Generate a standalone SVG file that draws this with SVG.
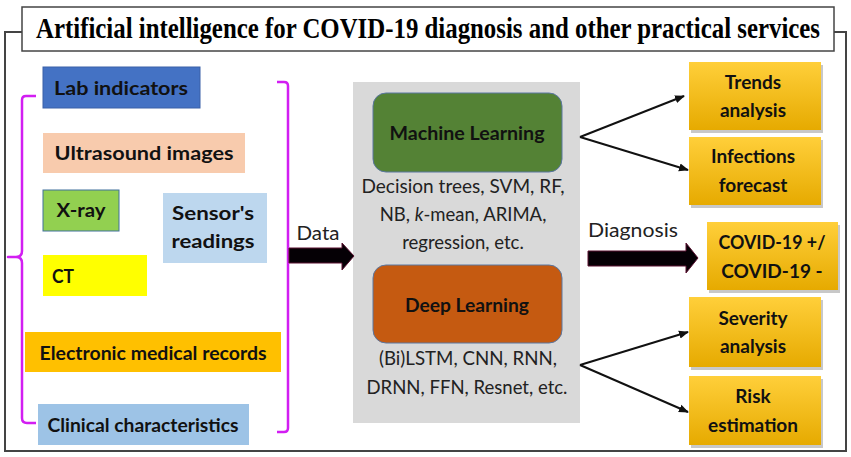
<svg xmlns="http://www.w3.org/2000/svg" width="851" height="457" viewBox="0 0 851 457">
<style>
.lbl{font-family:Lato,"Open Sans",sans-serif;font-weight:bold;font-size:19px;fill:#111;text-anchor:middle}
.txt{font-family:Lato,"Open Sans",sans-serif;font-size:18.5px;fill:#222;text-anchor:middle}
.gold{fill:url(#gold)}
.shadow{fill:#9a9a9a;opacity:0.55}
.brace{fill:none;stroke:#d21ef2;stroke-width:2.5;stroke-linejoin:round}
.line{stroke:#111;stroke-width:2;fill:none;marker-end:url(#ah)}
.block{fill:#050005;stroke:#5a1030;stroke-width:1}
</style>
<defs>
<linearGradient id="gold" x1="0" y1="0" x2="0" y2="1">
<stop offset="0" stop-color="#ffcf3a"/>
<stop offset="1" stop-color="#e6aa00"/>
</linearGradient>
<marker id="ah" viewBox="0 0 10 10" refX="9" refY="5" markerWidth="5" markerHeight="5" orient="auto" markerUnits="strokeWidth">
<path d="M0,1 L10,5 L0,9 z" fill="#111"/>
</marker>
</defs>
<rect width="851" height="457" fill="#fff"/>
<g id="frame">
<path d="M22,32 H5 V451 H846 V32 H834" fill="none" stroke="#444" stroke-width="2"/>
</g>
<g id="title">
<rect x="22" y="7" width="812" height="44" fill="#fff" stroke="#444" stroke-width="1.5"/>
<text transform="translate(36,38) scale(0.8,1)" x="0" y="0" font-family="'Liberation Serif',serif" font-weight="bold" font-size="29" textLength="980" lengthAdjust="spacingAndGlyphs" fill="#000">Artificial intelligence for COVID-19 diagnosis and other practical services</text>
</g>
<g id="lab">
<rect x="43" y="67" width="157" height="41" fill="#4472c4" stroke="#3a60a8" stroke-width="1"/>
<text class="lbl" x="121" y="95" textLength="134" lengthAdjust="spacingAndGlyphs">Lab indicators</text>
</g>
<g id="ultrasound">
<rect x="43" y="133" width="202" height="40" fill="#f8cbad"/>
<text class="lbl" x="144" y="160" textLength="179" lengthAdjust="spacingAndGlyphs">Ultrasound images</text>
</g>
<g id="xray">
<rect x="43" y="190" width="76" height="41" fill="#92d050" stroke="#41719c" stroke-width="1"/>
<text class="lbl" x="81" y="217" textLength="49" lengthAdjust="spacingAndGlyphs">X-ray</text>
</g>
<g id="sensor">
<rect x="163" y="193" width="104" height="70" fill="#bdd7ee"/>
<text class="lbl" x="213" y="220" textLength="82" lengthAdjust="spacingAndGlyphs">Sensor's</text>
<text class="lbl" x="213" y="248" textLength="83" lengthAdjust="spacingAndGlyphs">readings</text>
</g>
<g id="ct">
<rect x="43" y="255" width="104" height="41" fill="#ffff00"/>
<text class="lbl" x="63" y="283" textLength="22" lengthAdjust="spacingAndGlyphs">CT</text>
</g>
<g id="emr">
<rect x="25" y="332" width="256" height="40" fill="#ffc000"/>
<text class="lbl" x="153" y="360" textLength="227" lengthAdjust="spacingAndGlyphs">Electronic medical records</text>
</g>
<g id="clinical">
<rect x="38" y="404" width="211" height="41" fill="#9dc3e6"/>
<text class="lbl" x="143" y="432" textLength="191" lengthAdjust="spacingAndGlyphs">Clinical characteristics</text>
</g>
<g id="braces">
<path class="brace" d="M36,96 H26 Q22,96 22,100 V251 Q22,257 16,257 H8 H16 Q22,257 22,263 V418 Q22,423 27,423 H36"/>
<path class="brace" d="M277,82 H284 Q288,82 288,86 V428 Q288,432 284,432 H277"/>
</g>
<g id="panel">
<rect x="353" y="82" width="227" height="341" fill="#d9d9d9"/>
</g>
<g id="ml">
<rect x="373" y="93" width="189" height="79" rx="13" fill="#548235" stroke="#5a76a0" stroke-width="1"/>
<text class="lbl" x="467" y="140" textLength="155" lengthAdjust="spacingAndGlyphs">Machine Learning</text>
<text class="txt" x="463" y="193" textLength="203" lengthAdjust="spacingAndGlyphs">Decision trees, SVM, RF,</text>
<text class="txt" x="463" y="221">NB, <tspan font-style="italic">k</tspan>-mean, ARIMA,</text>
<text class="txt" x="463" y="249">regression, etc.</text>
</g>
<g id="dl">
<rect x="373" y="265" width="189" height="78" rx="13" fill="#c55a11" stroke="#5a76a0" stroke-width="1"/>
<text class="lbl" x="467" y="312" textLength="124" lengthAdjust="spacingAndGlyphs">Deep Learning</text>
<text class="txt" x="468" y="365" textLength="178" lengthAdjust="spacingAndGlyphs">(Bi)LSTM, CNN, RNN,</text>
<text class="txt" x="467" y="394" textLength="201" lengthAdjust="spacingAndGlyphs">DRNN, FFN, Resnet, etc.</text>
</g>
<g id="trends">
<rect class="shadow" x="691" y="65" width="132" height="68"/>
<rect class="gold" x="689" y="62" width="132" height="68"/>
<text class="lbl" x="753" y="89">Trends</text>
<text class="lbl" x="753" y="117">analysis</text>
</g>
<g id="infections">
<rect class="shadow" x="691" y="140" width="132" height="68"/>
<rect class="gold" x="689" y="137" width="132" height="68"/>
<text class="lbl" x="753" y="163">Infections</text>
<text class="lbl" x="753" y="192">forecast</text>
</g>
<g id="covid">
<rect class="shadow" x="709" y="225" width="131" height="68"/>
<rect class="gold" x="707" y="222" width="131" height="68"/>
<text class="lbl" x="772" y="249" textLength="107" lengthAdjust="spacingAndGlyphs">COVID-19 +/</text>
<text class="lbl" x="772" y="278">COVID-19 -</text>
</g>
<g id="severity">
<rect class="shadow" x="691" y="300" width="132" height="70"/>
<rect class="gold" x="689" y="297" width="132" height="70"/>
<text class="lbl" x="753" y="325">Severity</text>
<text class="lbl" x="753" y="353">analysis</text>
</g>
<g id="risk">
<rect class="shadow" x="691" y="379" width="132" height="69"/>
<rect class="gold" x="689" y="376" width="132" height="69"/>
<text class="lbl" x="753" y="403">Risk</text>
<text class="lbl" x="753" y="432">estimation</text>
</g>
<g id="connectors">
<path class="block" d="M289,248 H342 V243 L354,256 L342,270 V263 H289 Z"/>
<text class="txt" x="318" y="240" textLength="43" lengthAdjust="spacingAndGlyphs">Data</text>
<path class="block" d="M588,251 H686 V243 L698,258 L686,273 V266 H588 Z"/>
<text class="txt" x="633" y="237" textLength="90" lengthAdjust="spacingAndGlyphs">Diagnosis</text>
<path class="line" d="M580,137 L684,96"/>
<path class="line" d="M580,137 L688,170"/>
<path class="line" d="M580,365 L688,332"/>
<path class="line" d="M580,365 L688,412"/>
</g>
</svg>
